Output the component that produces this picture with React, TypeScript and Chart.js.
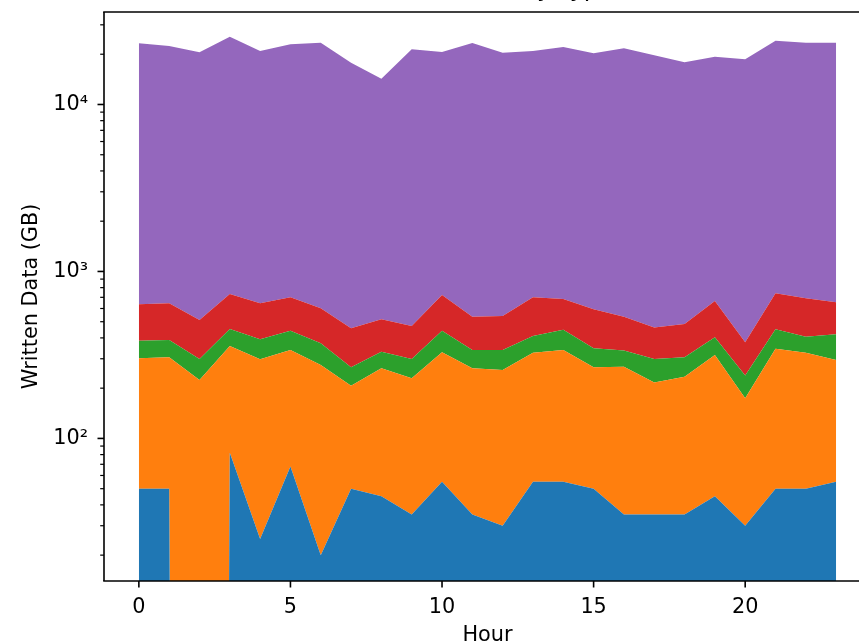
import React, { useEffect, useRef } from "react";
import { Chart, registerables } from "chart.js";

Chart.register(...registerables);

// ---- data ----
const hours = [0, 1, 2, 3, 4, 5, 6, 7, 8, 9, 10, 11, 12, 13, 14, 15, 16, 17, 18, 19, 20, 21, 22, 23];
const seriesNames = ["Type A", "Type B", "Type C", "Type D", "Type E"];
const typeA = [50, 50, 0, 82, 25, 68, 20, 50, 45, 35, 55, 35, 30, 55, 55, 50, 35, 35, 35, 45, 30, 50, 50, 55];
const typeB = [252, 256, 224, 276, 273, 271, 255, 157, 218, 194, 273, 228, 227, 271, 284, 217, 234, 181, 199, 271, 144, 294, 276, 240];
const typeC = [83, 83, 75, 95, 95, 103, 97, 60, 68, 70, 114, 76, 82, 85, 108, 80, 67, 83, 72, 88, 64, 107, 81, 126];
const typeD = [251, 256, 213, 280, 252, 259, 230, 190, 186, 173, 281, 197, 202, 290, 237, 247, 200, 162, 179, 262, 139, 289, 284, 233];
const typeE = [22610, 21760, 20030, 24740, 20260, 22230, 22850, 17340, 13750, 20940, 19900, 22810, 19880, 20200, 21420, 19670, 21160, 19240, 17410, 18660, 18270, 23360, 22760, 22800];
const seriesColors = ["#1f77b4", "#ff7f0e", "#2ca02c", "#d62728", "#9467bd"];

const xTickValues = [0, 5, 10, 15, 20];
const yMajorTicks = [100, 1000, 10000];
const yMajorLabels = ["10²", "10³", "10⁴"];
const yMinorTicks = [
  20, 30, 40, 50, 60, 70, 80, 90,
  200, 300, 400, 500, 600, 700, 800, 900,
  2000, 3000, 4000, 5000, 6000, 7000, 8000, 9000,
  20000, 30000,
];

const titleText = "Written Data by Type";
const xTitle = "Hour";
const yTitle = "Written Data (GB)";

// log axis cannot show zero; a vanishingly small positive stand-in keeps the
// drop to the floor vertical, as in the original
const LOG_FLOOR = 1e-30;

const axisDecor = {
  id: "axisDecor",
  afterDraw(chart: any) {
    const { ctx, chartArea } = chart;
    const { left, right, top, bottom } = chartArea;
    const xs = chart.scales.x;
    const ys = chart.scales.y;
    ctx.save();
    ctx.strokeStyle = "#000";
    ctx.lineCap = "butt";
    const seg = (x1: number, y1: number, x2: number, y2: number, w: number) => {
      ctx.lineWidth = w;
      ctx.beginPath();
      ctx.moveTo(x1, y1);
      ctx.lineTo(x2, y2);
      ctx.stroke();
    };
    yMajorTicks.forEach((v) => {
      const p = ys.getPixelForValue(v);
      if (p >= top - 0.5 && p <= bottom + 0.5) seg(left - 6.5, p, left, p, 1.6);
    });
    yMinorTicks.forEach((v) => {
      const p = ys.getPixelForValue(v);
      if (p >= top - 0.5 && p <= bottom + 0.5) seg(left - 3.8, p, left, p, 1.2);
    });
    xTickValues.forEach((v) => {
      const p = xs.getPixelForValue(v);
      seg(p, bottom, p, bottom + 6.5, 1.6);
    });
    // spines (the right one lies outside the cropped view)
    seg(left - 0.8, top, right + 0.8, top, 1.6);
    seg(left - 0.8, bottom, right + 0.8, bottom, 1.6);
    seg(left, top, left, bottom, 1.6);
    seg(right, top, right, bottom, 1.6);
    ctx.restore();
  },
};

export default function App() {
  const canvasRef = useRef<HTMLCanvasElement | null>(null);

  useEffect(() => {
    if (!canvasRef.current) return;
    const allSeries = [typeA, typeB, typeC, typeD, typeE];
    const datasets = allSeries.map((s, k) => ({
      label: seriesNames[k],
      data: hours.map((h, i) => ({ x: h, y: s[i] > 0 ? s[i] : LOG_FLOOR })),
      backgroundColor: seriesColors[k],
      borderColor: seriesColors[k],
      borderWidth: 0,
      pointRadius: 0,
      pointHoverRadius: 0,
      fill: k === 0 ? "origin" : "-1",
      tension: 0,
      xAxisID: "x",
      yAxisID: "y",
    }));

    const chart = new Chart(canvasRef.current, {
      type: "line",
      data: { datasets },
      options: {
        animation: false,
        responsive: true,
        maintainAspectRatio: false,
        layout: { padding: { left: 0, right: 29, top: 0, bottom: 0 } },
        plugins: {
          legend: { display: false },
          tooltip: { enabled: false },
          title: { display: false },
        },
        scales: {
          // top axis carries the title, so it is centred over the plot area
          xTop: {
            type: "linear",
            position: "top",
            min: -1.15,
            max: 24.15,
            afterFit: (scale: any) => {
              scale.height = 42;
            },
            ticks: { display: false },
            grid: { display: false },
            border: { display: false },
            title: {
              display: true,
              text: titleText,
              color: "#000",
              font: { family: "DejaVu Sans", size: 24 },
              padding: { top: 5.8, bottom: 0 },
            },
          },
          x: {
            type: "linear",
            position: "bottom",
            min: -1.15,
            max: 24.15,
            afterBuildTicks: (scale: any) => {
              scale.ticks = xTickValues.map((v) => ({ value: v }));
            },
            afterFit: (scale: any) => {
              scale.height = 69;
            },
            ticks: {
              color: "#000",
              font: { family: "DejaVu Sans", size: 20.8 },
              padding: 8,
              maxRotation: 0,
              autoSkip: false,
              callback: (v: any) => String(v),
            },
            grid: { display: true, drawOnChartArea: false, drawTicks: true, tickLength: 6.5, tickColor: "rgba(0,0,0,0)" },
            border: { display: false },
            title: {
              display: true,
              text: xTitle,
              color: "#000",
              font: { family: "DejaVu Sans", size: 20.8 },
              padding: { top: 0, bottom: 2 },
            },
          },
          y: {
            type: "logarithmic",
            stacked: true,
            min: 14,
            max: 35800,
            afterBuildTicks: (scale: any) => {
              scale.ticks = yMajorTicks.map((v) => ({ value: v, major: true }));
            },
            afterFit: (scale: any) => {
              scale.width = 104;
            },
            ticks: {
              color: "#000",
              font: { family: "DejaVu Sans", size: 20.8 },
              padding: 9.5,
              autoSkip: false,
              callback: (v: any) => {
                const idx = yMajorTicks.indexOf(Number(v));
                return idx >= 0 ? yMajorLabels[idx] : "";
              },
            },
            grid: { display: true, drawOnChartArea: false, drawTicks: true, tickLength: 6.5, tickColor: "rgba(0,0,0,0)" },
            border: { display: false },
            title: {
              display: true,
              text: yTitle,
              color: "#000",
              font: { family: "DejaVu Sans", size: 20.8 },
              padding: { top: 19, bottom: 0 },
            },
          },
        },
      },
      plugins: [axisDecor],
    });
    return () => chart.destroy();
  }, []);

  return (
    <div style={{ position: "fixed", left: 0, top: 0, width: 859, height: 643, overflow: "hidden", background: "#fff" }}>
      <div style={{ position: "absolute", left: 0, top: -30, width: 900, height: 680 }}>
        <canvas ref={canvasRef} />
      </div>
    </div>
  );
}
